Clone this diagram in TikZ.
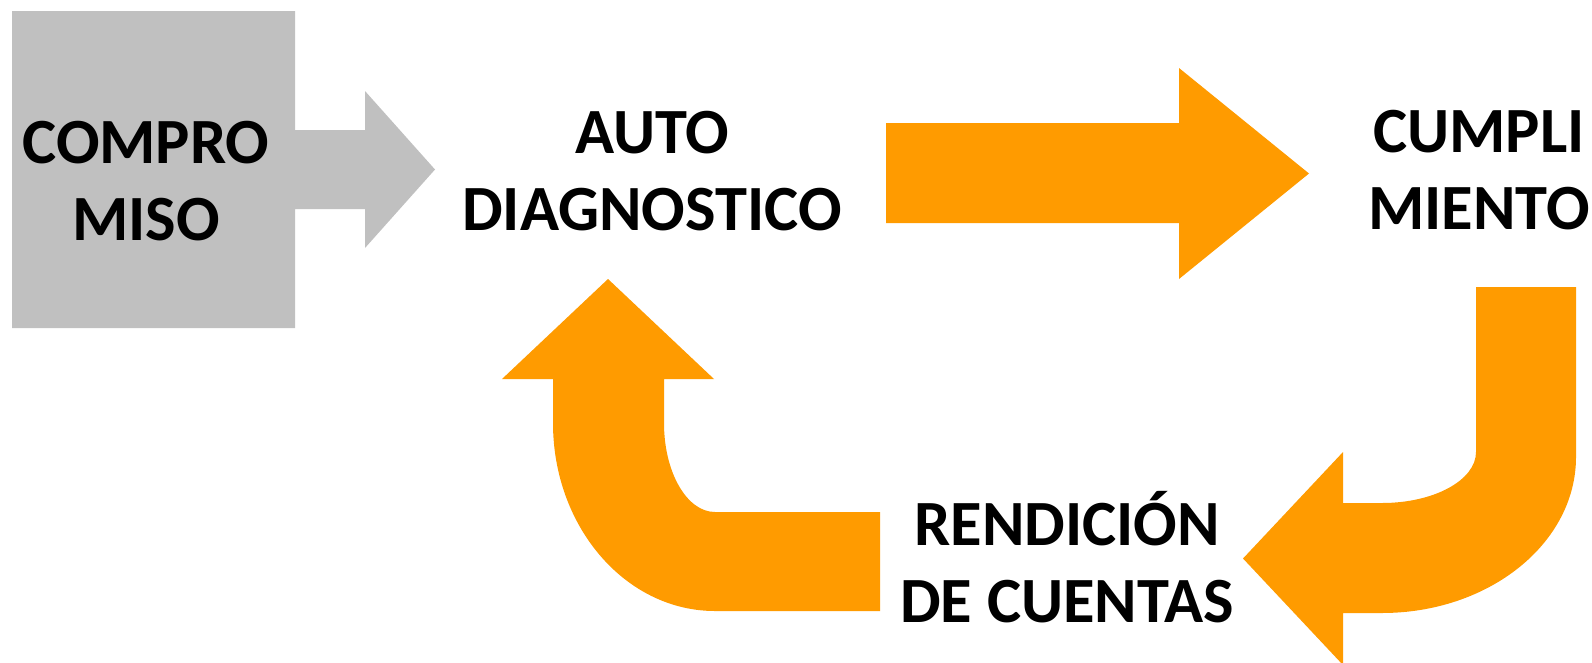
\documentclass[tikz,border=0pt]{standalone}
\usepackage{fontspec}
\setmainfont{Carlito}
\definecolor{boxgray}{HTML}{C0C0C0}
\definecolor{arroworange}{HTML}{FF9B00}
\tikzset{
  label/.style={font=\fontsize{64.5}{77}\selectfont\bfseries, align=center, inner sep=0pt, anchor=base, text=black},
  grayshape/.style={fill=boxgray, draw=none},
  orangeshape/.style={fill=arroworange, draw=none}
}
\begin{document}
\begin{tikzpicture}[x=1pt,y=-1pt]
\useasboundingbox (0,0) rectangle (1592,662);
% gray box with arrow
\fill[grayshape] (12,11) -- (295,11) -- (295,130) -- (365,130) -- (365,91) -- (435,169.5)
  -- (365,248) -- (365,209) -- (295,209) -- (295,328) -- (12,328) -- cycle;
% straight orange arrow
\fill[orangeshape] (886,123) -- (1179,123) -- (1179,68) -- (1309,173.5) -- (1179,279)
  -- (1179,223) -- (886,223) -- cycle;
% right U arrow (down, then left)
\fill[orangeshape] (1476,287) -- (1576,287) -- (1576,457)
  .. controls (1576,543.2) and (1489.1,613) .. (1382,613)
  -- (1343,613) -- (1343,665) -- (1243,558.5) -- (1343,452) -- (1343,503) -- (1382,503)
  .. controls (1433.9,503) and (1476,480.2) .. (1476,452) -- cycle;
% left U arrow (left, then up)
\fill[orangeshape] (880,611) -- (715,611)
  .. controls (625.5,611) and (553,526.8) .. (553,423)
  -- (553,379) -- (502,379) -- (608,279) -- (714,379) -- (664,379) -- (664,423)
  .. controls (664,472.2) and (686.8,512) .. (715,512) -- (880,512) -- cycle;
% labels (anchor=base is the baseline of the last line)
\node[label] (compromiso) at (146,240) {COMPRO\\MISO};
\node[label] (auto) at (652,230) {AUTO\\DIAGNOSTICO};
\node[label] (cumpli) at (1479,229) {CUMPLI\\MIENTO};
\node[label] (rendicion) at (1067,622) {RENDICIÓN\\DE CUENTAS};
\end{tikzpicture}
\end{document}
